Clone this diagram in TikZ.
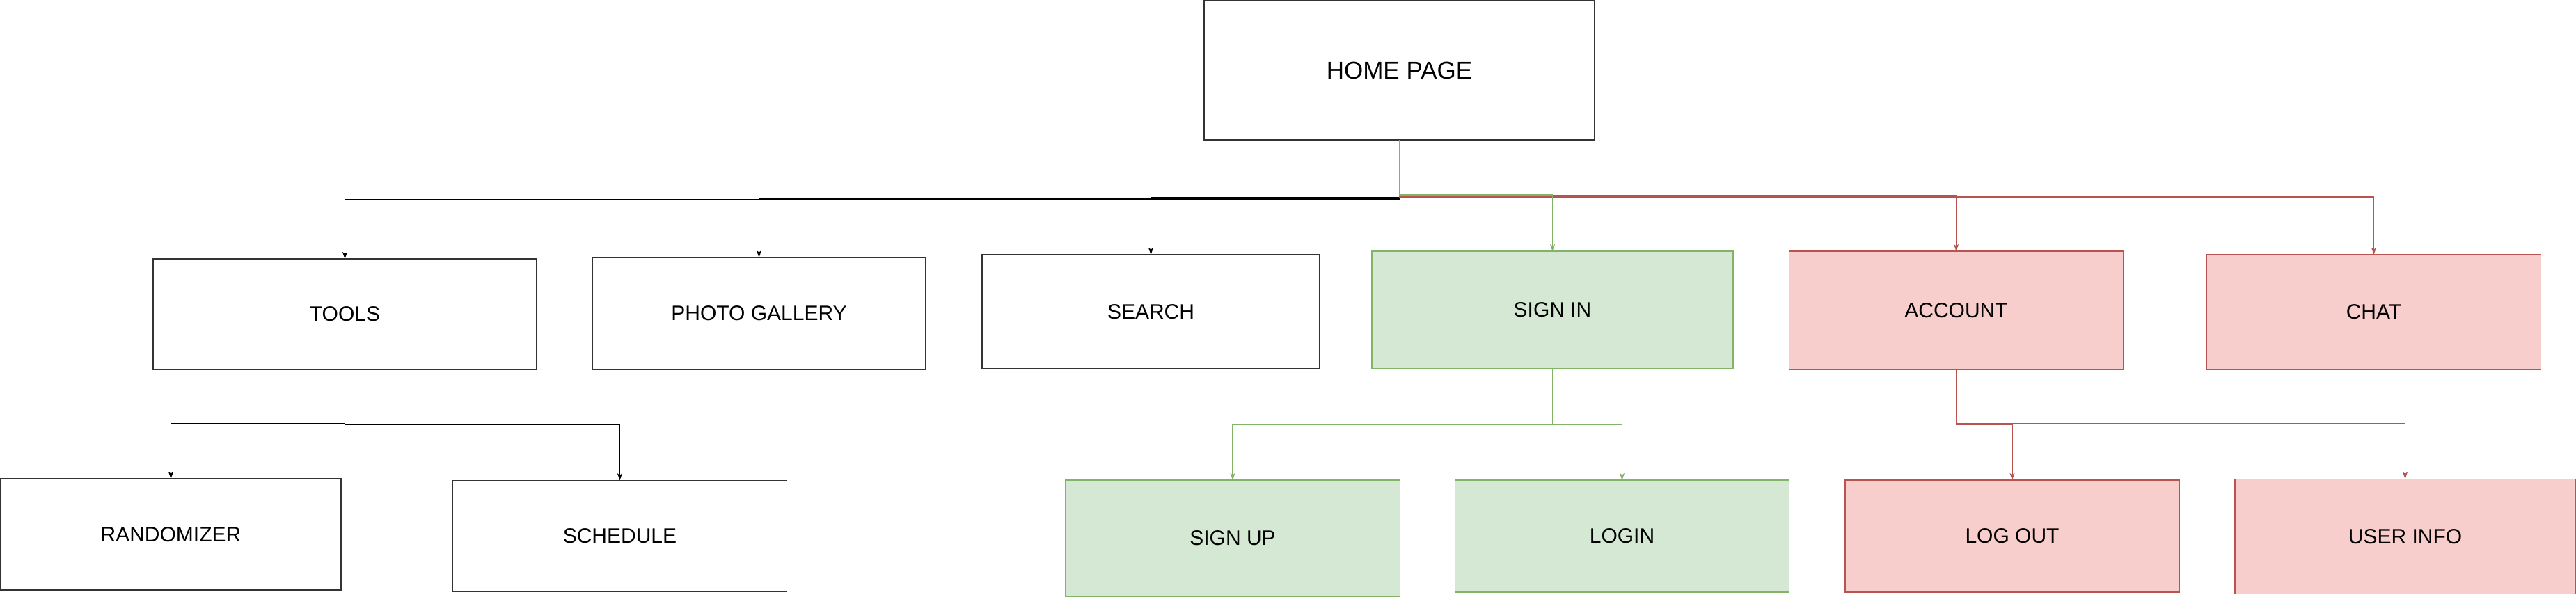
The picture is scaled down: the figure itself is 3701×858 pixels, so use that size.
\documentclass[tikz,border=0pt]{standalone}
\usepackage{fontspec}
\setmainfont{Liberation Sans}
\usetikzlibrary{arrows.meta}
\definecolor{gfill}{HTML}{D5E8D4}
\definecolor{gline}{HTML}{82B366}
\definecolor{rfill}{HTML}{F8CECC}
\definecolor{rline}{HTML}{B85450}
\begin{document}
\begin{tikzpicture}[x=1pt,y=-1pt,
  basebox/.style={line width=1.6pt, inner sep=0pt, outer sep=0pt, font=\fontsize{30}{36}\selectfont},
  plainbox/.style={basebox, draw=black!80, fill=white},
  greenbox/.style={basebox, draw=gline, fill=gfill},
  redbox/.style={basebox, draw=rline, fill=rfill},
  tip/.style={-{Stealth[length=10pt,width=7pt,inset=2.5pt]}},
  blkconn/.style={tip, draw=black, line width=1.2pt},
  grnconn/.style={tip, draw=gline, fill=none, line width=1.4pt},
  redconn/.style={tip, draw=rline, fill=none, line width=1.4pt},
  sz/.style n args={2}{minimum width=#1pt, minimum height=#2pt}]
\useasboundingbox (0,0) rectangle (3701,858);
\fill[white] (0,0) rectangle (3701,858);

% nodes
\node[plainbox, sz={561}{200}, font=\fontsize{35}{42}\selectfont] (home) at (2010.5,101) {HOME PAGE};
\node[plainbox, sz={551}{159}] (tools) at (495.5,451.5) {TOOLS};
\node[plainbox, sz={479}{161}] (photo) at (1090.5,450.5) {PHOTO GALLERY};
\node[plainbox, sz={485}{164}] (search) at (1653.5,448) {SEARCH};
\node[greenbox, sz={519}{169}] (signin) at (2230.5,445.5) {SIGN IN};
\node[redbox, sz={480}{170}] (account) at (2810.5,446) {ACCOUNT};
\node[redbox, sz={480}{165}] (chat) at (3410.5,448.5) {CHAT};
\node[plainbox, sz={489}{160}] (rand) at (245.5,768) {RANDOMIZER};
\node[plainbox, sz={480}{160}] (sched) at (890.5,770.3) {SCHEDULE};
\node[greenbox, sz={481}{167}] (signup) at (1771,773.5) {SIGN UP};
\node[greenbox, sz={480}{161}] (login) at (2330.5,770.5) {LOGIN};
\node[redbox, sz={480}{161}] (logout) at (2891,770.5) {LOG OUT};
\node[redbox, sz={489}{165}] (uinfo) at (3455.5,770.8) {USER INFO};

% bus levels
\coordinate (yk1) at (0,287);
\coordinate (yk2) at (0,285);
\coordinate (yk3) at (0,284);
\coordinate (yr1) at (0,280.5);
\coordinate (yr2) at (0,283);
\coordinate (yg) at (0,280);
\coordinate (yt1) at (0,609);
\coordinate (yt2) at (0,610);
\coordinate (ys) at (0,610);
\coordinate (ya1) at (0,610.5);
\coordinate (ya2) at (0,609);

% home connectors
\draw[blkconn] (home.south) -- (home.south |- yk1) -- (tools.north |- yk1) -- (tools.north);
\draw[blkconn] (home.south) -- (home.south |- yk2) -- (photo.north |- yk2) -- (photo.north);
\draw[blkconn] (home.south) -- (home.south |- yk3) -- (search.north |- yk3) -- (search.north);
\draw[redconn] (home.south) -- (home.south |- yr2) -- (chat.north |- yr2) -- (chat.north);
\draw[redconn] (home.south) -- (home.south |- yr1) -- (account.north |- yr1) -- (account.north);
\draw[grnconn] (home.south) -- (home.south |- yg) -- (signin.north |- yg) -- (signin.north);

% second level
\draw[blkconn] (tools.south) -- (tools.south |- yt1) -- (rand.north |- yt1) -- (rand.north);
\draw[blkconn] (tools.south) -- (tools.south |- yt2) -- (sched.north |- yt2) -- (sched.north);
\draw[grnconn] (signin.south) -- (signin.south |- ys) -- (signup.north |- ys) -- (signup.north);
\draw[grnconn] (signin.south) -- (signin.south |- ys) -- (login.north |- ys) -- (login.north);
\draw[redconn] (account.south) -- (account.south |- ya1) -- (logout.north |- ya1) -- (logout.north);
\draw[redconn] (account.south) -- (account.south |- ya2) -- (uinfo.north |- ya2) -- (uinfo.north);
\end{tikzpicture}
\end{document}
